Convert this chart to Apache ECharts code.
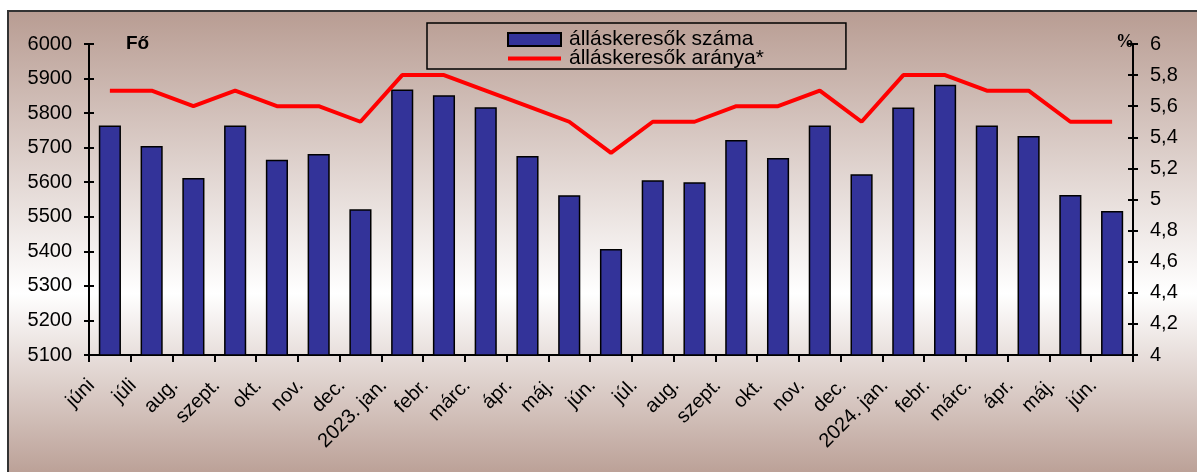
<!DOCTYPE html>
<html>
<head>
<meta charset="utf-8">
<script src="https://cdn.jsdelivr.net/npm/echarts@6/dist/echarts.min.js"></script>
<style>
html,body{margin:0;padding:0;background:#fff;}
#c{width:1197px;height:472px;}
</style>
</head>
<body>
<div id="c"></div>
<script>
const categories = ['júni','júli','aug.','szept.','okt.','nov.','dec.','2023. jan.','febr.','márc.','ápr.','máj.','jún.','júl.','aug.','szept.','okt.','nov.','dec.','2024. jan.','febr.','márc.','ápr.','máj.','jún.'];
const jobseekers = [5764,5705,5612,5764,5665,5682,5522,5868,5852,5817,5676,5562,5407,5606,5600,5722,5670,5764,5623,5816,5882,5764,5734,5563,5517];
const jobseekerRate = [5.7,5.7,5.6,5.7,5.6,5.6,5.5,5.8,5.8,5.7,5.6,5.5,5.3,5.5,5.5,5.6,5.6,5.7,5.5,5.8,5.8,5.7,5.7,5.5,5.5];
const seriesNames = ['álláskeresők száma','álláskeresők aránya*'];

const chart = echarts.init(document.getElementById('c'), null, {renderer:'canvas'});
const FONT = 'Liberation Sans, Arial, sans-serif';
const brown = '#b89c92';
const axisLineStyle = {color:'#000', width:2};

chart.setOption({
  animation:false,
  graphic:[
    {type:'rect', z:-10, silent:true,
     shape:{x:8,y:11,width:1197,height:470},
     style:{fill:new echarts.graphic.LinearGradient(0,0,0,1,[
       {offset:0,color:brown},{offset:0.6,color:'#ffffff'},{offset:1,color:brown}]),
       stroke:'#333', lineWidth:2}},
    {type:'text', left:126, top:34, style:{text:'Fő', font:'bold 19px '+FONT, fill:'#000'}},
    {type:'text', left:1116, top:33, style:{text:'%', font:'bold 18px Liberation Serif, serif', fill:'#000'}}
  ],
  legend:{
    left:427, top:23, orient:'vertical',
    padding:[6,82,0,80], itemGap:-2,
    itemWidth:53, itemHeight:13,
    borderColor:'#000', borderWidth:1.5,
    textStyle:{fontFamily:FONT, fontSize:21, color:'#000', padding:[0,0,0,3]},
    data:[{name:seriesNames[0], icon:'rect'},
          {name:seriesNames[1], icon:'path://M0,0 L53,0 L53,4 L0,4 Z', itemStyle:{color:'#ff0000'}}]
  },
  grid:{left:89, right:64, top:44, bottom:117},
  xAxis:{
    type:'category', data:categories,
    axisLine:{lineStyle:axisLineStyle},
    axisTick:{show:true, length:7, lineStyle:{color:'#000', width:2}},
    axisLabel:{rotate:45, interval:0, fontFamily:FONT, fontSize:20, color:'#000', margin:9,
      padding:[0,26,0,0]}
  },
  yAxis:[
    {type:'value', position:'left', min:5100, max:6000, interval:100,
     axisLine:{show:true, lineStyle:axisLineStyle},
     axisTick:{show:true, length:5, lineStyle:{color:'#000', width:2}},
     axisLabel:{fontFamily:FONT, fontSize:20, color:'#000', margin:17, formatter:v=>String(v)},
     splitLine:{show:false}},
    {type:'value', position:'right', min:4, max:6, interval:0.2,
     axisLine:{show:true, lineStyle:axisLineStyle},
     axisTick:{show:true, length:5, lineStyle:{color:'#000', width:2}},
     axisLabel:{fontFamily:FONT, fontSize:20, color:'#000', margin:17,
       formatter:v=>(Math.round(v*10)/10).toString().replace('.',',')},
     splitLine:{show:false}},
    {type:'value', position:'left', min:5100, max:6000, interval:100,
     axisLine:{show:false}, axisLabel:{show:false}, splitLine:{show:false},
     axisTick:{show:true, inside:true, length:5, lineStyle:{color:'#000', width:2}}},
    {type:'value', position:'right', min:4, max:6, interval:0.2,
     axisLine:{show:false}, axisLabel:{show:false}, splitLine:{show:false},
     axisTick:{show:true, inside:true, length:5, lineStyle:{color:'#000', width:2}}}
  ],
  series:[
    {name:seriesNames[0], type:'bar', yAxisIndex:0, data:jobseekers, barWidth:'53%',
     itemStyle:{color:'#333399', borderColor:'#000', borderWidth:1.5}},
    {name:seriesNames[1], type:'line', yAxisIndex:1, data:jobseekerRate,
     symbol:'none', lineStyle:{color:'#ff0000', width:4}, itemStyle:{color:'#ff0000'}}
  ]
});
</script>
</body>
</html>
